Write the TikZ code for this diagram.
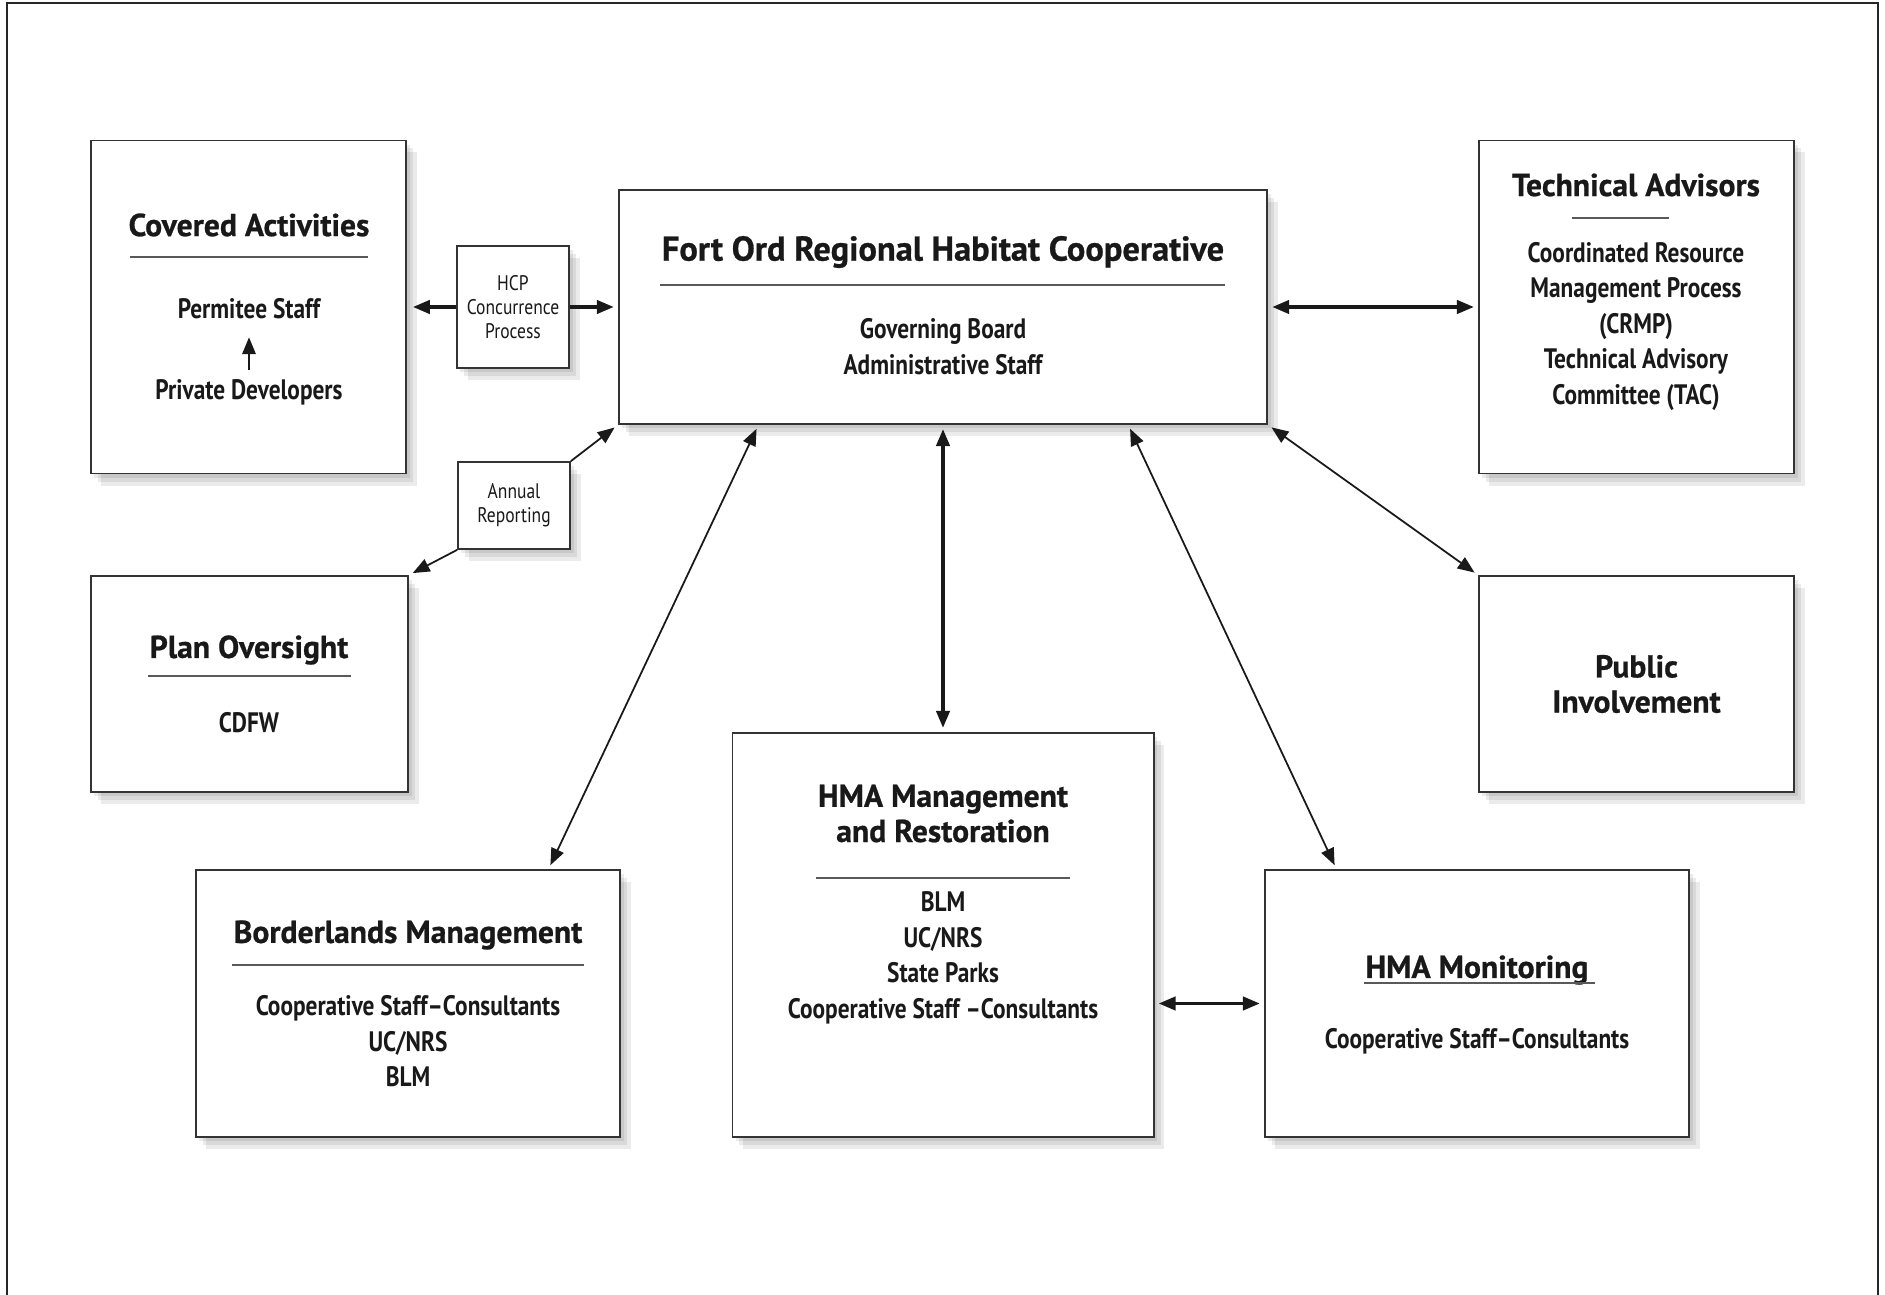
\documentclass[tikz,border=0pt]{standalone}
\usepackage{fontspec}
\setmainfont{PT Sans}
\newfontfamily\headfont{PT Sans}[BoldFeatures={FakeBold=0.7}]
\newfontfamily\narrowfont{PT Sans}[FakeStretch=0.83]
\usepackage{tikz}
\usetikzlibrary{arrows.meta,shadows,calc}

\begin{document}
\begin{tikzpicture}[
    x=0.01cm, y=-0.01cm,
    >={Triangle[length=4.8pt,width=3.8pt]},
    unit/.style={rectangle, draw=black!80, line width=0.5pt, fill=white, inner sep=1pt,
        general shadow={fill=black, opacity=0.08, shadow xshift=1pt, shadow yshift=-1.2pt},
        general shadow={fill=black, opacity=0.08, shadow xshift=2pt, shadow yshift=-2.3pt},
        general shadow={fill=black, opacity=0.08, shadow xshift=3pt, shadow yshift=-3.4pt}},
    heading/.style={align=center, text=black!90, font=\headfont\bfseries\fontsize{9}{10}\selectfont},
    members/.style={align=center, text=black!90, font=\narrowfont\bfseries\fontsize{8}{10.1}\selectfont},
    memo/.style={align=center, text=black!90, font=\narrowfont\fontsize{6}{6.8}\selectfont},
    divider/.style={draw=black!65, line width=0.45pt},
    link/.style={line width=0.5pt, black!90, shorten <=1.2pt, shorten >=1.2pt},
    mainlink/.style={line width=0.9pt, black!90, shorten <=1.2pt, shorten >=1.2pt}
]
\useasboundingbox (0,0) rectangle (1885,1295);
\draw[line width=0.7pt, black!85] (7,1295) -- (7,3) -- (1878,3) -- (1878,1295);

\node[unit, minimum width=3.15cm, minimum height=3.33cm] (covered) at (248.5,307) {};
\node[heading] (coveredT) at (249,225) {Covered Activities};
\draw[divider] (130,257) -- (368,257);
\node[members] (permitee) at (249,309) {Permitee Staff};
\node[members] (private) at (249,392) {Private Developers};

\node[unit, memo, minimum width=1.12cm, minimum height=1.22cm] (hcp) at (513,307) {HCP\\Concurrence\\Process};

\node[unit, minimum width=6.48cm, minimum height=2.34cm] (fort) at (943,307) {};
\node[heading, font=\headfont\bfseries\fontsize{9.8}{11}\selectfont] (fortT) at (943,252) {Fort Ord Regional Habitat Cooperative};
\draw[divider] (660,285) -- (1225,285);
\node[members] (fortB) at (943,346.5) {Governing Board\\Administrative Staff};

\node[unit, minimum width=3.15cm, minimum height=3.33cm] (tech) at (1636.5,307) {};
\node[heading] (techT) at (1636,185) {Technical Advisors};
\draw[divider] (1572,218) -- (1669,218);
\node[members] (techB) at (1636,326.5) {Coordinated Resource\\Management Process\\(CRMP)\\Technical Advisory\\Committee (TAC)};

\node[unit, memo, minimum width=1.12cm, minimum height=0.87cm] (annual) at (514,505.5) {Annual\\Reporting};

\node[unit, minimum width=3.17cm, minimum height=2.16cm] (plan) at (249.5,684) {};
\node[heading] (planT) at (249,650) {Plan Oversight};
\draw[divider] (148,676) -- (351,676);
\node[members] (planB) at (249,723) {CDFW};

\node[unit, heading, minimum width=3.15cm, minimum height=2.16cm] (public) at (1636.5,684) {Public\\Involvement};

\node[unit, minimum width=4.21cm, minimum height=4.04cm] (mgmt) at (943,935) {};
\node[heading] (mgmtT) at (943,813.5) {HMA Management\\and Restoration};
\draw[divider] (816,878) -- (1070,878);
\node[members] (mgmtB) at (943,958) {BLM\\UC/NRS\\State Parks\\Cooperative Staff –Consultants};

\node[unit, minimum width=4.24cm, minimum height=2.67cm] (border) at (408,1003.5) {};
\node[heading] (borderT) at (408,935) {Borderlands Management};
\draw[divider] (232,965) -- (584,965);
\node[members] (borderB) at (408,1041.5) {Cooperative Staff–Consultants\\UC/NRS\\BLM};

\node[unit, minimum width=4.24cm, minimum height=2.67cm] (monit) at (1477,1003.5) {};
\node[heading] (monitT) at (1477,970) {HMA Monitoring};
\draw[divider, line width=0.55pt] (1364,983) -- (1595,983);
\node[members] (monitB) at (1477,1041) {Cooperative Staff–Consultants};

\draw[->, line width=0.6pt, black!90, shorten <=-1pt, shorten >=1.6pt] (private) -- (permitee);
\draw[->, mainlink, shorten <=0pt, shorten >=1.7pt] (hcp) -- (covered);
\draw[->, mainlink, shorten <=0pt] (hcp) -- (fort);
\draw[<->, mainlink] (fort) -- (tech);
\draw[->, link, shorten <=0pt] (annual.north east) -- (fort.south west);
\draw[->, link, shorten <=0pt] (annual.south west) -- (plan.north east);
\draw[<->, link] (fort.south east) -- (public.north west);
\draw[<->, mainlink] (fort) -- (mgmt);
\draw[<->, link] ($(fort.south west)!0.216!(fort.south east)$) -- ($(border.north west)!0.83!(border.north east)$);
\draw[<->, link] ($(fort.south west)!0.785!(fort.south east)$) -- ($(monit.north west)!0.17!(monit.north east)$);
\draw[<->, mainlink] (monit.west -| mgmt.east) -- (monit.west);
\end{tikzpicture}
\end{document}
